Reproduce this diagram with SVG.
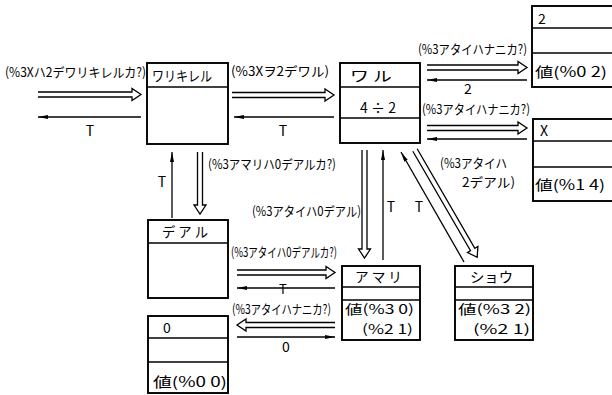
<svg xmlns="http://www.w3.org/2000/svg" width="612" height="395" viewBox="0 0 612 395">
<defs>
<style>
.box{fill:#fff;stroke:#000;stroke-width:1.9}
.sep{stroke:#000;stroke-width:1.5;fill:none}
.dbl{fill:none;stroke:#000;stroke-width:1.3;stroke-linejoin:miter}
.sgl{fill:none;stroke:#000;stroke-width:1.3;marker-end:url(#ah)}
.t{font-family:"Noto Sans CJK JP","Noto Sans",sans-serif;font-size:13px;fill:#000}
.b{font-family:"Noto Sans CJK JP","Noto Sans",sans-serif;font-size:14px;fill:#000}
.v{font-family:"Noto Sans CJK JP","Noto Sans",sans-serif;font-size:13px;fill:#000}
.m{text-anchor:middle}
</style>
<marker id="ah" viewBox="0 0 10 4" refX="10" refY="2" markerWidth="10" markerHeight="4" markerUnits="userSpaceOnUse" orient="auto"><path d="M0,0 L10,2 L0,4 z" fill="#000"/></marker>
</defs>
<rect width="612" height="395" fill="#fff"/>

<g id="connectors">
<path class="dbl" d="M38,92 H132 V88.5 L141,94.5 L132,100.5 V97 H38"/>
<line class="sgl" x1="141" y1="117" x2="38" y2="117"/>
<path class="dbl" d="M232,92.5 H325 V89 L334,95 L325,101 V97.5 H232"/>
<line class="sgl" x1="334" y1="117" x2="234" y2="117"/>
<path class="dbl" d="M427,65 H518 V61.5 L527,67.5 L518,73.5 V70 H427"/>
<line class="sgl" x1="527" y1="80" x2="427" y2="80"/>
<path class="dbl" d="M427,125.5 H518 V122 L527,128 L518,134 V130.5 H427"/>
<line class="sgl" x1="527" y1="139" x2="427" y2="139"/>
<path class="dbl" d="M197.5,152 V205 H194 L200,214 L206,205 H202.5 V152"/>
<line class="sgl" x1="172" y1="218" x2="172" y2="152"/>
<path class="dbl" d="M362,150 V249 H358.5 L364.5,258 L370.5,249 H367 V150"/>
<line class="sgl" x1="383" y1="260" x2="383" y2="150"/>
<path class="dbl" transform="translate(415,150) rotate(59.9)" d="M0,-2.5 H115 V-6 L124,0 L115,6 V2.5 H0"/>
<line class="sgl" x1="464" y1="262" x2="401" y2="152"/>
<path class="dbl" d="M237,270 H326 V266.5 L335,272.5 L326,278.5 V275 H237"/>
<line class="sgl" x1="335" y1="288" x2="237" y2="288"/>
<path class="dbl" d="M335,322.5 H246 V319 L237,325 L246,331 V327.5 H335"/>
<line class="sgl" x1="237" y1="337" x2="335" y2="337"/>

<text class="t" x="5" y="77" textLength="141" lengthAdjust="spacingAndGlyphs">(%3Xハ2デワリキレルカ?)</text>
<text class="b m" x="90" y="136">T</text>
<text class="t" x="231" y="76" textLength="98" lengthAdjust="spacingAndGlyphs">(%3Xヲ2デワル)</text>
<text class="b m" x="283" y="136">T</text>
<text class="t" x="418" y="54" textLength="109" lengthAdjust="spacingAndGlyphs">(%3アタイハナニカ?)</text>
<text class="b m" x="468" y="94">2</text>
<text class="t" x="422" y="114" textLength="108" lengthAdjust="spacingAndGlyphs">(%3アタイハナニカ?)</text>
<text class="t" x="440" y="168" textLength="67" lengthAdjust="spacingAndGlyphs">(%3アタイハ</text>
<text class="t" x="462" y="187" textLength="53" lengthAdjust="spacingAndGlyphs">2デアル)</text>
<text class="b m" x="162" y="187">T</text>
<text class="t" x="208" y="169" textLength="128" lengthAdjust="spacingAndGlyphs">(%3アマリハ0デアルカ?)</text>
<text class="t" x="252" y="216" textLength="109" lengthAdjust="spacingAndGlyphs">(%3アタイハ0デアル)</text>
<text class="b m" x="391" y="212">T</text>
<text class="b m" x="419" y="212">T</text>
<text class="t" x="231" y="257" textLength="106" lengthAdjust="spacingAndGlyphs">(%3アタイハ0デアルカ?)</text>
<text class="v m" x="283" y="294">T</text>
<text class="t" x="232" y="314" textLength="99" lengthAdjust="spacingAndGlyphs">(%3アタイハナニカ?)</text>
<text class="b m" x="286" y="352">0</text>
</g>

<g id="n_warikireru">
<rect class="box" x="147" y="63" width="81" height="81"/>
<line class="sep" x1="147" y1="87" x2="228" y2="87"/>
<text class="b" x="152" y="81" textLength="60" lengthAdjust="spacingAndGlyphs">ワリキレル</text>
</g>

<g id="n_waru">
<rect class="box" x="340" y="63" width="80" height="80"/>
<line class="sep" x1="340" y1="87" x2="420" y2="87"/>
<line class="sep" x1="340" y1="118" x2="420" y2="118"/>
<text class="b" x="350" y="81" textLength="42" lengthAdjust="spacingAndGlyphs">ワ ル</text>
<text class="b m" x="378" y="113">4 ÷ 2</text>
</g>

<g id="n_2">
<rect class="box" x="532" y="6" width="90" height="81"/>
<line class="sep" x1="532" y1="28" x2="612" y2="28"/>
<line class="sep" x1="532" y1="53" x2="612" y2="53"/>
<text class="b" x="538" y="24">2</text>
<text class="b" x="535" y="77" textLength="72" lengthAdjust="spacingAndGlyphs">値(%0 2)</text>
</g>

<g id="n_x">
<rect class="box" x="533" y="119" width="90" height="82"/>
<line class="sep" x1="533" y1="141" x2="612" y2="141"/>
<line class="sep" x1="533" y1="167" x2="612" y2="167"/>
<text class="b" x="540" y="136">X</text>
<text class="b" x="535" y="190" textLength="70" lengthAdjust="spacingAndGlyphs">値(%1 4)</text>
</g>

<g id="n_dearu">
<rect class="box" x="148" y="220" width="80" height="78"/>
<line class="sep" x1="148" y1="243" x2="228" y2="243"/>
<text class="b" x="162" y="237" textLength="46" lengthAdjust="spacingAndGlyphs">デ ア ル</text>
</g>

<g id="n_0">
<rect class="box" x="148" y="316" width="80" height="77"/>
<line class="sep" x1="148" y1="338" x2="228" y2="338"/>
<line class="sep" x1="148" y1="362" x2="228" y2="362"/>
<text class="b" x="163" y="333">0</text>
<text class="b" x="153" y="387" textLength="74" lengthAdjust="spacingAndGlyphs">値(%0 0)</text>
</g>

<g id="n_amari">
<rect class="box" x="342" y="266" width="78" height="74"/>
<line class="sep" x1="342" y1="287" x2="420" y2="287"/>
<line class="sep" x1="342" y1="300" x2="420" y2="300"/>
<text class="b" x="355" y="282" textLength="47" lengthAdjust="spacingAndGlyphs">ア マ リ</text>
<text class="v" x="345" y="314" textLength="69" lengthAdjust="spacingAndGlyphs">値(%3 0)</text>
<text class="v" x="362" y="334" textLength="51" lengthAdjust="spacingAndGlyphs">(%2 1)</text>
</g>

<g id="n_shou">
<rect class="box" x="455" y="266" width="78" height="74"/>
<line class="sep" x1="455" y1="287" x2="533" y2="287"/>
<line class="sep" x1="455" y1="300" x2="533" y2="300"/>
<text class="b" x="470" y="282" textLength="43" lengthAdjust="spacingAndGlyphs">ショウ</text>
<text class="v" x="458" y="314" textLength="73" lengthAdjust="spacingAndGlyphs">値(%3 2)</text>
<text class="v" x="473" y="334" textLength="57" lengthAdjust="spacingAndGlyphs">(%2 1)</text>
</g>
</svg>
